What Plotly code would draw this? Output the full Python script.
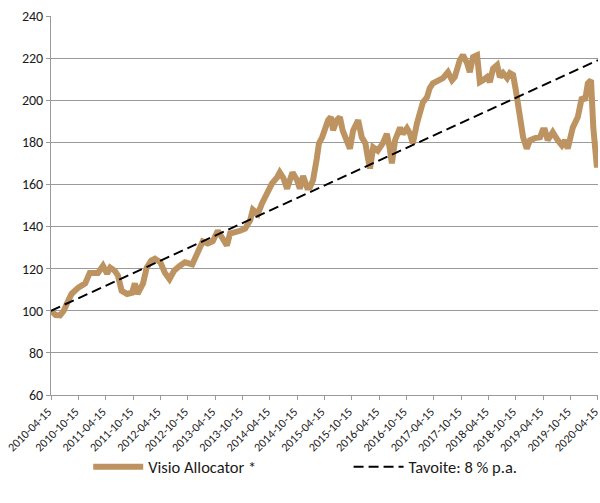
import pandas as pd
import plotly.graph_objects as go

# ---- data ----
start_date = "2010-04-15"
# months elapsed since start_date
months = [0, 1, 2, 2.8, 3.4, 4.5, 6, 7.5, 8.5, 9.7, 10.3, 11.4, 12.3, 13, 14, 14.7, 15.5, 16.7, 17.8, 18.4,
          19, 20.2, 21, 22, 22.8, 24, 25, 26, 27, 28.3, 29.4, 31, 31.6, 32.3, 33.3, 34.4, 35.5, 36.6, 37.7,
          38.6, 39.3, 40.4, 41.5, 42.6, 43.7, 44.3, 45.4, 46.3, 47, 47.6, 48.5, 49.6, 50.2, 51, 51.8, 52.4,
          53, 54, 54.6, 55.3, 56.2, 56.8, 57.5, 58.3, 58.8, 59.5, 60.1, 60.8, 61.4, 61.9, 62.7, 63.4, 64,
          65, 65.6, 66.3, 67.4, 68.2, 69, 69.5, 70, 70.7, 71.7, 72.8, 73.7, 74.3, 74.8, 75.5, 76.6, 77.2,
          78.1, 78.8, 79.4, 80.3, 81, 81.6, 82.5, 83.1, 83.8, 84.9, 86, 87.1, 88, 88.6, 89.7, 90.4, 91.3,
          91.9, 92.6, 93.5, 94.1, 94.8, 95.7, 96.3, 97, 97.9, 98.5, 99.2, 100.1, 100.7, 101.4, 102, 102.5,
          103.1, 103.6, 104.4, 105.1, 106.2, 107.3, 107.9, 108.4, 109, 110.1, 111.2, 112.1, 112.8, 113.4,
          114.5, 115.6, 116.5, 117.2, 117.8, 118.5, 119, 119.6, 119.8, 120]
visio_values = [100, 98, 97.8, 100, 103, 108, 111, 113, 118, 117.6, 118, 121.4, 117.6, 120.5, 119, 116.7,
                109.5, 108, 108.6, 113, 108, 113, 120.5, 123.8, 124.7, 123, 118, 115, 119, 121.4, 123, 122,
                125, 127, 133, 132, 133, 138, 134, 131, 136.7, 137, 138, 139, 143, 148, 146, 151, 153.8,
                155.7, 160.5, 163.3, 165.7, 163, 158, 162, 165.7, 162, 158, 164, 158.6, 158.6, 162, 172,
                179.5, 182.4, 187, 190.5, 192, 185.7, 190.5, 192, 185.7, 181, 177, 185.7, 190.5, 182.4,
                179.5, 173, 167.6, 177.6, 176, 179.5, 184, 177.6, 170, 181, 187, 184, 186.7, 184, 179.5,
                189, 193.8, 199, 201.4, 205.7, 208, 209.5, 210.5, 213.3, 209.5, 211, 219, 221.4, 217.6,
                213.3, 220.5, 221.4, 208.6, 209.5, 211, 208.6, 215, 216.7, 211, 212.9, 210.5, 212.9, 212,
                204.8, 196.7, 190.5, 182.4, 177, 181, 182, 182.4, 185.7, 185.7, 181, 184.8, 181, 178.6,
                181, 177, 187, 192, 201.4, 200, 208, 209.5, 187, 171.4, 168, 178]

target_dates = ["2010-04-15", "2020-04-15"]
target_values = [100, 219]

tick_labels = ["2010-04-15", "2010-10-15", "2011-04-15", "2011-10-15", "2012-04-15", "2012-10-15",
               "2013-04-15", "2013-10-15", "2014-04-15", "2014-10-15", "2015-04-15", "2015-10-15",
               "2016-04-15", "2016-10-15", "2017-04-15", "2017-10-15", "2018-04-15", "2018-10-15",
               "2019-04-15", "2019-10-15", "2020-04-15"]

series_names = ["Visio Allocator *", "Tavoite: 8 % p.a."]

# ---- build ----
t0 = pd.Timestamp(start_date)
visio_dates = [t0 + pd.Timedelta(days=m * 30.4375) for m in months]

FONT = "Carlito, Lato, 'Liberation Sans', sans-serif"
GOLD = "#BD9461"
GRID = "#9a9a9a"
TXT = "#1a1a1a"

fig = go.Figure()
fig.add_trace(go.Scatter(x=visio_dates, y=visio_values, mode="lines", name=series_names[0],
                         line=dict(color=GOLD, width=6), legend="legend"))
fig.add_trace(go.Scatter(x=pd.to_datetime(target_dates), y=target_values, mode="lines",
                         name=series_names[1], legend="legend2",
                         line=dict(color="black", width=2, dash="10px,5px")))

leg_common = dict(orientation="h", yanchor="middle", y=-0.19, xanchor="left",
                  font=dict(size=16.5, color=TXT), itemwidth=50, bgcolor="rgba(0,0,0,0)")
fig.update_layout(
    width=600, height=503,
    margin=dict(l=51, r=2, t=16, b=108),
    paper_bgcolor="white", plot_bgcolor="white",
    font=dict(family=FONT, size=13, color=TXT),
    legend=dict(x=0.068, **leg_common),
    legend2=dict(x=0.544, **leg_common),
    showlegend=True,
)
fig.update_xaxes(
    type="date", automargin=False, ticklabeloverflow="allow", ticklabelshift=-3,
    range=[pd.Timestamp("2010-04-15"), pd.Timestamp("2020-04-15 12:00")],
    tickmode="array", tickvals=pd.to_datetime(tick_labels), ticktext=tick_labels,
    tickangle=-45, ticks="outside", ticklen=4, tickcolor=GRID,
    showline=True, linecolor=GRID, linewidth=1, showgrid=False, zeroline=False,
    tickfont=dict(size=12, color=TXT),
)
fig.update_yaxes(
    automargin=False, ticklabeloverflow="allow",
    range=[60, 240], dtick=20, tick0=60,
    ticks="outside", ticklen=4, tickcolor=GRID,
    showline=True, linecolor=GRID, linewidth=1,
    showgrid=True, gridcolor=GRID, gridwidth=1, zeroline=False,
    tickfont=dict(size=14, color=TXT),
)

# remove the default 8px page margin so the 600x503 figure fills the window
fig.write_html("out.html", config={"displayModeBar": False},
               post_script="document.body.style.margin='0px';")
